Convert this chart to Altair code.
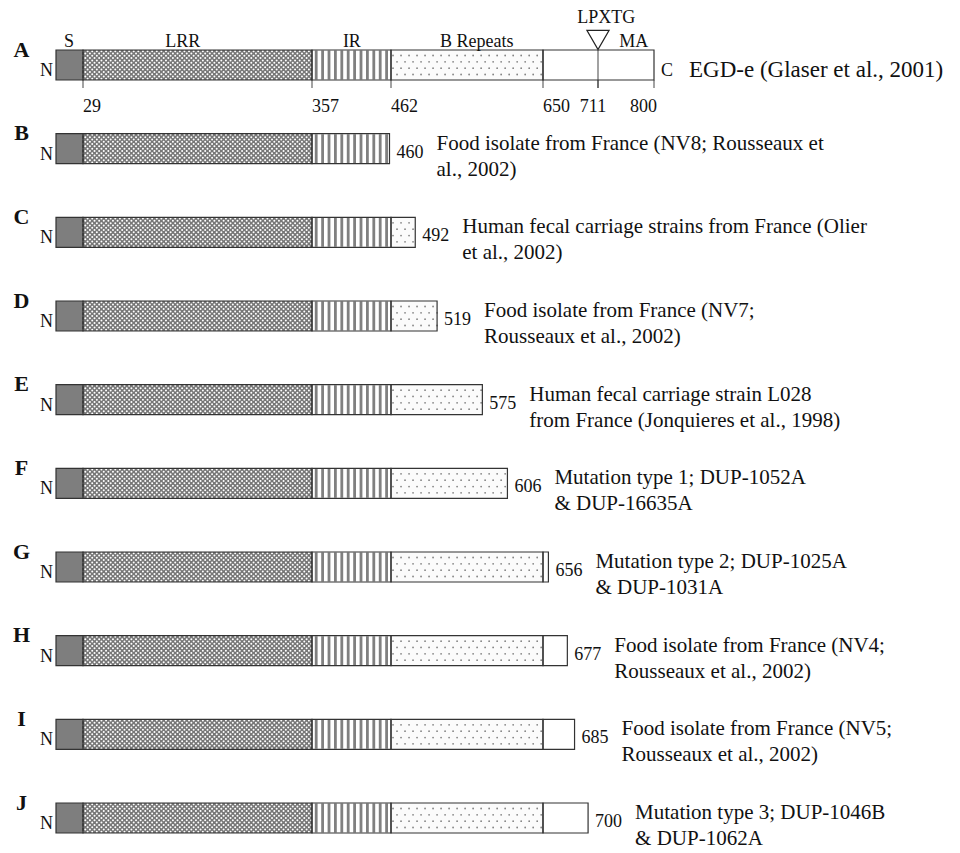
import altair as alt
import pandas as pd

# ---------------- data ----------------
rows = ["A", "B", "C", "D", "E", "F", "G", "H", "I", "J"]
lengths = [800, 460, 492, 519, 575, 606, 656, 677, 685, 700]
descriptions = [
    "EGD-e (Glaser et al., 2001)",
    "Food isolate from France (NV8; Rousseaux et\nal., 2002)",
    "Human fecal carriage strains from France (Olier\net al., 2002)",
    "Food isolate from France (NV7;\nRousseaux et al., 2002)",
    "Human fecal carriage strain L028\nfrom France (Jonquieres et al., 1998)",
    "Mutation type 1; DUP-1052A\n& DUP-16635A",
    "Mutation type 2; DUP-1025A\n& DUP-1031A",
    "Food isolate from France (NV4;\nRousseaux et al., 2002)",
    "Food isolate from France (NV5;\nRousseaux et al., 2002)",
    "Mutation type 3; DUP-1046B\n& DUP-1062A",
]
domain_names = ["S", "LRR", "IR", "B Repeats", "MA"]
domain_starts = [0, 29, 357, 462, 650]
domain_ends = [29, 357, 462, 650, 800]
domain_label_pos = [14, 172, 410, 568, 768]
lpxtg_pos = [711]
lpxtg_label_pos = [724]
tick_positions = [29, 357, 462, 650, 711, 800]

# ---------------- tables ----------------
seg_records = []
for r, L in zip(rows, lengths):
    for name, s, e in zip(domain_names, domain_starts, domain_ends):
        if s < L:
            seg_records.append({"row": r, "part": name, "start": s, "end": min(e, L)})
seg_df = pd.DataFrame(seg_records)
rows_df = pd.DataFrame({"row": rows, "length": lengths, "desc": descriptions})
dom_df = pd.DataFrame({"row": "A", "label": domain_names, "pos": domain_label_pos})
lpx_df = pd.DataFrame({"row": "A", "label": ["LPXTG"], "pos": lpxtg_label_pos, "site": lpxtg_pos})
tick_df = pd.DataFrame({"row": "A", "pos": tick_positions, "txt": [str(t) for t in tick_positions]})

FONT = "Liberation Serif"
INK = "#111111"
LINE = "#333333"

xscale = alt.Scale(domain=[0, 29, 357, 462, 650, 711, 800],
                   range=[18, 45, 274, 353, 505, 560, 616], zero=False, nice=False)
yscale = alt.Scale(type="point", domain=rows, range=[57, 810], padding=0)
yaxis = alt.Axis(title=None, domain=False, ticks=False, grid=False,
                 labelFont=FONT, labelFontWeight="bold", labelFontSize=22,
                 labelColor=INK, labelAlign="center", labelBaseline="middle",
                 labelPadding=17, labelOffset=-16)


def X(field):
    return alt.X(field, scale=xscale, axis=None)


Y = alt.Y("row:N", scale=yscale, axis=yaxis)

seg = alt.Chart(seg_df)

base = seg.mark_bar(size=30).encode(
    x=X("start:Q"), x2="end:Q", y=Y,
    color=alt.Color("part:N", legend=None,
                    scale=alt.Scale(domain=domain_names,
                                    range=["#7e7e7e", "#777777", "#ffffff", "#fbfbfb", "#ffffff"])),
)


def texture(part, color, width, dash, yoff, dash_off=0, cap="butt"):
    return seg.transform_filter(alt.datum.part == part).mark_rule(
        color=color, strokeWidth=width, strokeDash=dash, strokeDashOffset=dash_off,
        strokeCap=cap, yOffset=yoff, opacity=1,
    ).encode(x=X("start:Q"), x2="end:Q", y=Y)


layers = [base]
# IR vertical stripes
layers.append(texture("IR", "#808080", 29, [2.8, 3.6], 0, 3.6))
# B repeats dots
for i, yo in enumerate([-9.5, -3.2, 3.2, 9.5]):
    layers.append(texture("B Repeats", "#858585", 1.8, [0.01, 8], yo, 6 if i % 2 == 0 else 2, "round"))
# LRR crosshatch (white diamonds on grey)
for k in range(-6, 7):
    layers.append(texture("LRR", "#ffffff", 2.0, [0.01, 4.6], k * 2.3, 2.3 if k % 2 else 0, "round"))

outline = seg.mark_bar(size=30, fillOpacity=0, stroke=LINE, strokeWidth=1.2).encode(
    x=X("start:Q"), x2="end:Q", y=Y)
layers.append(outline)

ticks = alt.Chart(tick_df).mark_tick(size=8, thickness=1.3, yOffset=19, color=LINE).encode(
    x=X("pos:Q"), y=Y)
lpx_line = alt.Chart(lpx_df).mark_tick(size=38, thickness=1.3, yOffset=4, color=LINE).encode(
    x=X("site:Q"), y=Y)
triangle = alt.Chart(lpx_df).mark_point(shape="triangle-down", size=484, filled=True,
                                        fill="white", stroke="#222", strokeWidth=1.3,
                                        opacity=1, yOffset=-25).encode(x=X("site:Q"), y=Y)
layers += [ticks, lpx_line, triangle]

txt = dict(font=FONT, color=INK)
dom_labels = alt.Chart(dom_df).mark_text(fontSize=18, align="center", baseline="alphabetic",
                                         dy=-18, **txt).encode(x=X("pos:Q"), y=Y, text="label:N")
lpx_label = alt.Chart(lpx_df).mark_text(fontSize=18, align="center", baseline="alphabetic",
                                        dy=-42, **txt).encode(x=X("pos:Q"), y=Y, text="label:N")
n_labels = alt.Chart(rows_df).mark_text(fontSize=18, align="right", baseline="alphabetic",
                                        dx=-3, dy=11, **txt).encode(
    x=alt.X("zero:Q", scale=xscale, axis=None), y=Y, text=alt.value("N")
).transform_calculate(zero="0")
c_label = alt.Chart(rows_df).transform_filter(alt.datum.row == "A").mark_text(
    fontSize=18, align="left", baseline="alphabetic", dx=7, dy=11, **txt).encode(
    x=X("length:Q"), y=Y, text=alt.value("C"))
layers += [dom_labels, lpx_label, n_labels, c_label]

a_left = alt.Chart(tick_df).transform_filter(alt.datum.pos <= 650).mark_text(
    fontSize=18, align="left", baseline="alphabetic", dx=0, dy=47, **txt).encode(
    x=X("pos:Q"), y=Y, text="txt:N")
a_mid = alt.Chart(tick_df).transform_filter(alt.datum.pos == 711).mark_text(
    fontSize=18, align="center", baseline="alphabetic", dx=-5, dy=47, **txt).encode(
    x=X("pos:Q"), y=Y, text="txt:N")
a_right = alt.Chart(tick_df).transform_filter(alt.datum.pos == 800).mark_text(
    fontSize=18, align="right", baseline="alphabetic", dx=3, dy=47, **txt).encode(
    x=X("pos:Q"), y=Y, text="txt:N")
layers += [a_left, a_mid, a_right]

others = alt.Chart(rows_df).transform_filter(alt.datum.row != "A")
end_nums = others.mark_text(fontSize=18, align="left", baseline="middle", dx=7, dy=4, **txt).encode(
    x=X("length:Q"), y=Y, text="length:N")
descs = others.mark_text(fontSize=21, align="left", baseline="alphabetic", dx=47, dy=1,
                         lineBreak="\n", lineHeight=26, **txt).encode(
    x=X("length:Q"), y=Y, text="desc:N")
desc_a = alt.Chart(rows_df).transform_filter(alt.datum.row == "A").mark_text(
    fontSize=23, align="left", baseline="alphabetic", dx=35, dy=12, **txt).encode(
    x=X("length:Q"), y=Y, text="desc:N")
layers += [end_nums, descs, desc_a]

chart = alt.layer(*layers).properties(
    width=914, height=845,
    autosize=alt.AutoSizeParams(type="none"),
    padding={"left": 30, "top": 0, "right": 0, "bottom": 0},
    background="white",
).configure_view(stroke=None)

chart.save("out.html", embed_options={"renderer": "svg", "actions": False})
